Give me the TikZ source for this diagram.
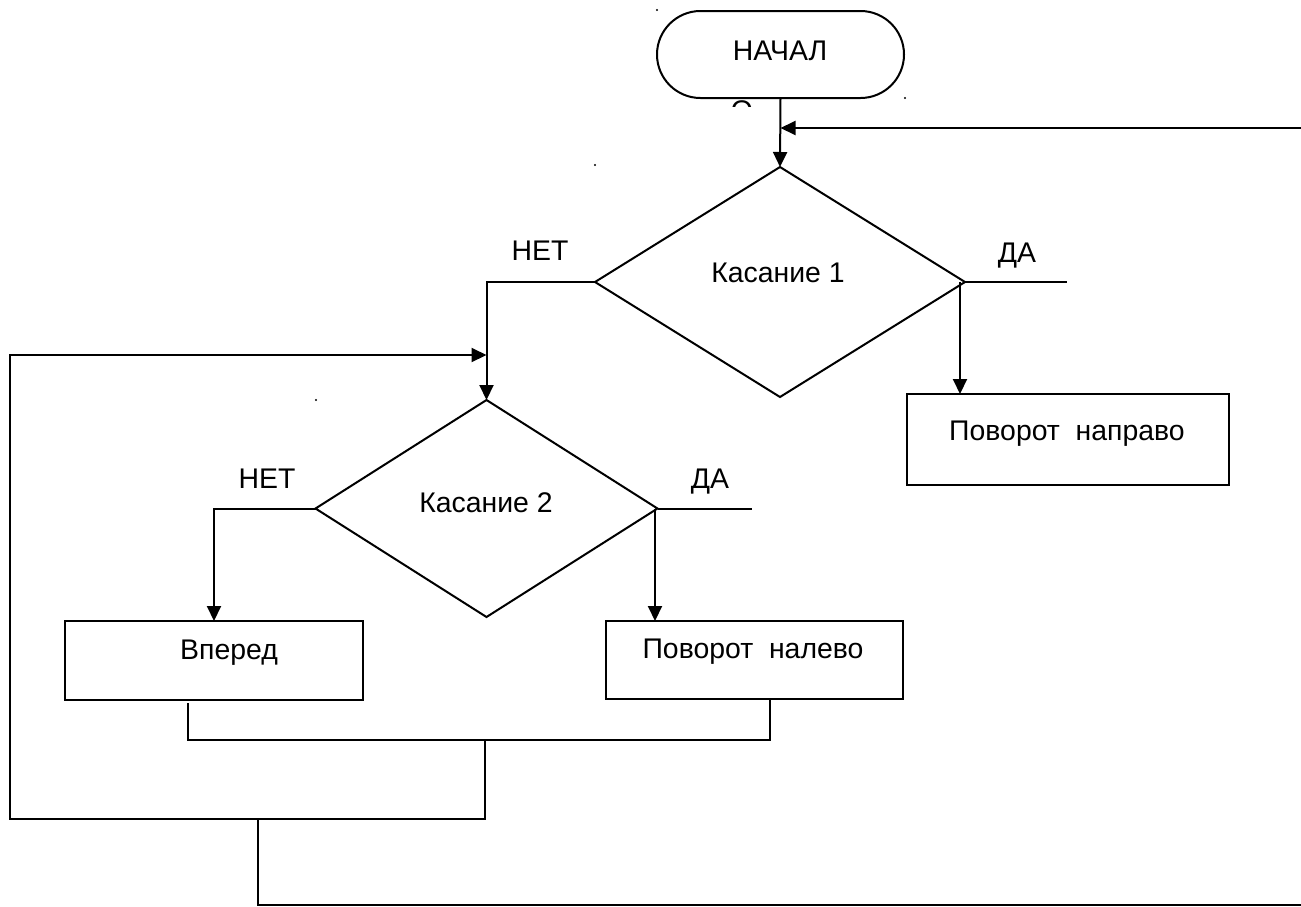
\documentclass[tikz,border=0pt]{standalone}
\usepackage{fontspec}
\setmainfont{Liberation Sans}
\usetikzlibrary{arrows.meta,shapes.geometric,shapes.misc}
\begin{document}
\begin{tikzpicture}[x=0.5pt,y=-0.5pt,
  line width=1pt,
  every node/.style={inner sep=0pt, outer sep=0pt, font=\fontsize{14.2pt}{16pt}\selectfont},
  term/.style={draw, rounded rectangle, minimum width=123.5pt, minimum height=43.5pt},
  decision/.style={draw, diamond},
  proc/.style={draw, rectangle},
  lbl/.style={anchor=base},
  arr/.style={-{Triangle[length=7.5pt,width=7pt]}},
  speck/.style={fill=black},
]
\useasboundingbox (0,0) rectangle (1301,906);

% shapes
\node[term] (start) at (780.5,54.5) {};
\node[lbl] (tstart) at (780,60) {НАЧАЛ};
\begin{scope}
  \clip (700,99) rectangle (800,106);
  \node[lbl] (tstarto) at (742,120) {О};
\end{scope}

\node[decision, minimum width=185pt, minimum height=115pt] (d1) at (780,282) {};
\node[lbl] (td1) at (778,282) {Касание 1};

\node[decision, minimum width=171pt, minimum height=108.5pt] (d2) at (486.5,508.5) {};
\node[lbl] (td2) at (486,512) {Касание 2};

\node[proc, minimum width=161pt, minimum height=45.5pt] (rright) at (1068,439.5) {};
\node[lbl] (trright) at (1067,440) {Поворот\ \ направо};

\node[proc, minimum width=149pt, minimum height=39.5pt] (rfwd) at (214,660.5) {};
\node[lbl] (trfwd) at (229,659) {Вперед};

\node[proc, minimum width=148.5pt, minimum height=39pt] (rleft) at (754.5,660) {};
\node[lbl] (trleft) at (753,658) {Поворот\ \ налево};

% branch labels
\node[lbl] (no1) at (540,260) {НЕТ};
\node[lbl] (yes1) at (1017,262) {ДА};
\node[lbl] (no2) at (267,488) {НЕТ};
\node[lbl] (yes2) at (710,488) {ДА};

% coordinates
\coordinate (c1) at (1301,128);
\coordinate (j1) at (780.5,128);
\coordinate (y1) at (1067,282);
\coordinate (y1v) at (960,282);
\coordinate (loopTL) at (10,355);
\coordinate (j2) at (486.5,355);
\coordinate (y2) at (752,508.5);
\coordinate (y2v) at (655,508.5);
\coordinate (m1) at (188,740);
\coordinate (m2) at (770,740);
\coordinate (m3) at (485,740);
\coordinate (m4) at (485,819);
\coordinate (m5) at (10,819);
\coordinate (m6) at (258,819);
\coordinate (m7) at (258,905);
\coordinate (m8) at (1301,905);

% connectors
\draw[arr] (start.south) -- (d1.north);
\draw[arr] (c1) -- (j1);
\draw[arr] (d1.west) -| (d2.north);
\draw (d1.east) -- (y1);
\draw[arr] (y1v) -- (y1v |- rright.north);
\draw[arr] (d2.west) -| (rfwd.north);
\draw (d2.east) -- (y2);
\draw[arr] (y2v) -- (y2v |- rleft.north);
\draw (m1 |- rfwd.south) ++(0,3) -- (m1) -- (m2) -- (m2 |- rleft.south);
\draw[arr] (m3) -- (m4) -- (m5) -- (loopTL) -- (j2);
\draw (m6) -- (m7) -- (m8);

% stray specks
\fill[speck] (657,10) circle[radius=0.6pt];
\fill[speck] (905,98) circle[radius=0.6pt];
\fill[speck] (595,165) circle[radius=0.6pt];
\fill[speck] (316,400) circle[radius=0.6pt];
\end{tikzpicture}
\end{document}
